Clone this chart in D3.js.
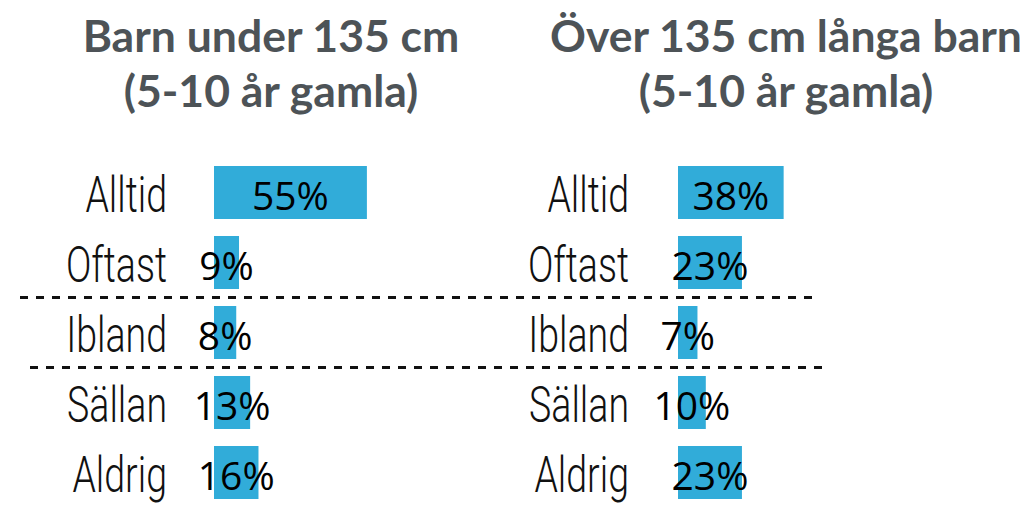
<!DOCTYPE html>
<html>
<head>
<meta charset="utf-8">
<script src="https://cdn.jsdelivr.net/npm/d3@7"></script>
<style>
  body { margin: 0; background: #fff; }
  svg { display: block; }
</style>
</head>
<body>
<svg class="chart"></svg>
<script>
var width = 1031,
    height = 505

var categories = ["Alltid", "Oftast", "Ibland", "Sällan", "Aldrig"]
var titles = [
    ["Barn under 135 cm", "(5-10 år gamla)"],
    ["Över 135 cm långa barn", "(5-10 år gamla)"]
]
var under135 = [55, 9, 8, 13, 16]
var over135 = [38, 23, 7, 10, 23]
// dashed lines sit after these categories
var dividers = ["Oftast", "Ibland"]

var panels = [
    { title: titles[0], values: under135, barX: 214, labelX: 167, titleX: 271 },
    { title: titles[1], values: over135, barX: 678, labelX: 629, titleX: 786 }
]

var chart = d3.select(".chart")
    .attr("width", width)
    .attr("height", height)

var yScale = d3.scaleBand()
    .domain(categories)
    .range([157.5, 507.5])
    .paddingInner(0.243)
    .paddingOuter(0.1215)

var xScale = d3.scaleLinear()
    .domain([0, 100])
    .range([0, 278])

var mid = d => yScale(d) + yScale.bandwidth() / 2

panels.forEach(function (p) {
    var g = chart.append("g")

    g.append("text")
        .attr("text-anchor", "middle")
        .attr("fill", "#4d5357")
        .style("font", "700 44.5px Lato")
        .selectAll("tspan")
        .data(p.title)
        .join("tspan")
        .attr("x", p.titleX)
        .attr("y", (d, i) => 52 + i * 55)
        .text(d => d)

    g.selectAll("rect")
        .data(p.values)
        .join("rect")
        .attr("x", p.barX)
        .attr("y", (d, i) => yScale(categories[i]))
        .attr("width", d => xScale(d))
        .attr("height", yScale.bandwidth())
        .attr("fill", "#31acd9")

    g.selectAll(".cat")
        .data(categories)
        .join("text")
        .attr("class", "cat")
        .attr("text-anchor", "end")
        .attr("transform", d => `translate(${p.labelX},${mid(d) + 19.5}) scale(0.75,1)`)
        .style("font", "300 50px Roboto")
        .attr("fill", "#111")
        .text(d => d)

    g.selectAll(".pct")
        .data(p.values)
        .join("text")
        .attr("class", "pct")
        .attr("text-anchor", "middle")
        .attr("x", d => p.barX + xScale(d) / 2)
        .attr("y", (d, i) => mid(categories[i]) + 17.5)
        .style("font", "400 39px 'Open Sans'")
        .attr("fill", "#000")
        .text(d => d + "%")
})

var lineExtents = [[20, 812], [30, 823]]
var step = yScale.step()
chart.append("g")
    .attr("stroke", "#111")
    .attr("stroke-width", 3)
    .attr("stroke-dasharray", "8,8")
    .selectAll("line")
    .data(dividers)
    .join("line")
    .attr("x1", (d, i) => lineExtents[i][0])
    .attr("x2", (d, i) => lineExtents[i][1])
    .attr("y1", d => yScale(d) + yScale.bandwidth() + (step - yScale.bandwidth()) / 2)
    .attr("y2", d => yScale(d) + yScale.bandwidth() + (step - yScale.bandwidth()) / 2)
</script>
</body>
</html>
